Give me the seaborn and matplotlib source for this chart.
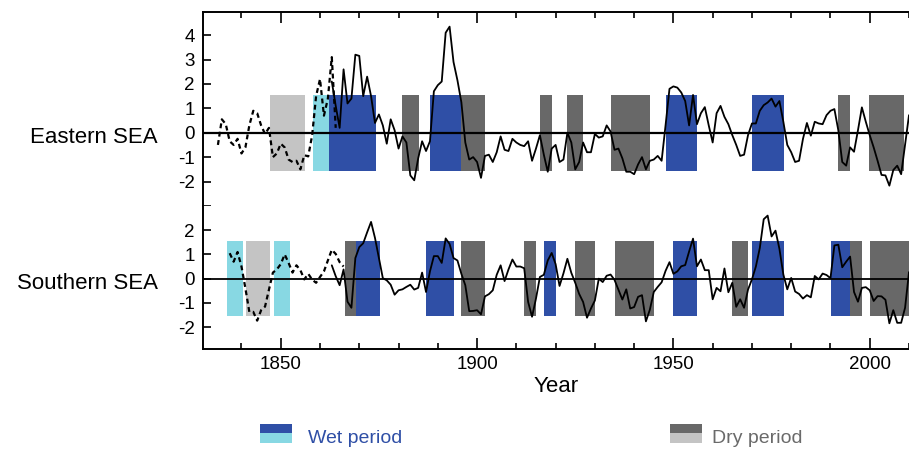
import numpy as np
import pandas as pd
import matplotlib
matplotlib.use("Agg")
import matplotlib.pyplot as plt
import seaborn as sns
from matplotlib.patches import Rectangle
from matplotlib.transforms import blended_transform_factory
from matplotlib.ticker import FixedLocator, FixedFormatter, MultipleLocator

# ---------------- data ----------------
east_dot_years = list(range(1834, 1865))
east_dot_vals = [-0.5, 0.55, 0.35, -0.35, -0.5, -0.25, -0.85, -0.6, 0.3, 0.9,
                 0.8, 0.3, -0.05, 0.2, -1.0, -0.85, -0.45, -0.6, -1.1, -1.2,
                 -1.15, -1.5, -0.92, -0.97, -0.1, 1.5, 2.2, 0.7, 1.4, 3.1, 0.2]

east_years = list(range(1863, 2011))
east_vals = [2.1, 1.1, 0.2, 2.6, 1.2, 1.4, 3.2,
             3.15, 1.5, 2.3, 1.5, 0.4, 0.75, 0.3, -0.45, 0.55, 0.1,
             -0.65, -0.15, -0.4, -1.75, -1.95, -1.05, -0.35, -0.75, -0.35, 1.7,
             1.95, 2.1, 4.1, 4.35, 2.9, 2.15, 1.25, -0.4, -1.1, -1.0,
             -1.2, -1.85, -0.95, -0.9, -1.2, -0.8, -0.15, -0.7, -0.75, -0.25,
             -0.4, -0.5, -0.55, -0.35, -1.15, -0.65, -0.1, -0.9, -1.6, -0.65,
             -0.5, -1.2, -1.1, 0.0, -0.4, -1.5, -1.2, -0.4, -0.8, -0.8,
             -0.05, -0.2, -0.15, 0.3, 0.05, -0.7, -0.65, -1.05, -1.6, -1.6,
             -1.7, -1.3, -1.0, -1.5, -1.15, -1.1, -0.95, -1.15, 0.3, 1.8,
             1.9, 1.85, 1.65, 1.3, 0.3, 1.55, 0.35, 0.8, 1.05, 0.3,
             -0.4, 0.8, 1.1, 0.65, 0.35, -0.1, -0.5, -0.95, -0.9, -0.1,
             0.38, 0.38, 0.9, 1.13, 1.24, 1.4, 1.07, 1.3, 0.45, -0.5,
             -0.8, -1.2, -1.15, -0.25, 0.4, -0.12, 0.45, 0.38, 0.35, 0.72,
             0.9, 0.97, 0.1, -1.2, -1.35, -0.6, -0.78, 0.1, 1.04, 0.45,
             -0.1, -0.6, -1.15, -1.73, -1.75, -2.17, -1.53, -1.35, -1.7, -0.5, 0.72]

south_dot_years = list(range(1837, 1867))
south_dot_vals = [1.05, 0.7, 1.1, 0.5, -0.4, -1.37, -1.37, -1.73, -1.3, -1.15,
                  -0.45, 0.25, 0.38, 0.6, 1.0, 0.65, 0.25, 0.55, 0.35, -0.03,
                  0.2, -0.04, -0.17, 0.07, 0.3, 0.75, 1.19, 1.02, 0.68, 0.5]

south_years = list(range(1863, 2011))
south_vals = [0.55, 0.1, -0.27, 0.38, -0.95, -1.2, 0.85,
              1.3, 1.46, 1.91, 2.34, 1.68, 0.85, 0.02, -0.07, -0.25, -0.66,
              -0.48, -0.44, -0.34, -0.25, -0.45, -0.38, 0.25, -0.55, 0.3, 0.93,
              0.93, 0.65, 1.66, 1.43, 0.85, 0.75, 0.2, -0.27, -1.34, -1.33,
              -1.3, -1.47, -0.73, -0.64, -0.48, 0.16, 0.55, -0.1, 0.38, 0.79,
              0.5, 0.5, 0.43, -0.96, -1.57, -0.82, 0.07, 0.16, 0.75, 1.06,
              0.6, -0.3, 0.22, 0.82, 0.24, -0.17, -0.63, -0.96, -1.61, -1.23,
              -0.9, 0.0, -0.14, 0.12, 0.17, -0.05, -0.45, -0.86, -0.44, -1.23,
              -1.17, -0.75, -0.68, -1.76, -1.28, -0.55, -0.34, -0.15, 0.32, 0.68,
              0.2, 0.3, 0.51, 0.56, 1.12, 1.65, 0.51, 0.79, 0.35, 0.35,
              -0.85, -0.38, -0.52, 0.42, -0.56, -0.17, -1.16, -0.85, -1.2, -0.45,
              -0.03, 0.5, 1.26, 2.45, 2.6, 1.74, 1.98, 1.23, 0.17, -0.44,
              0.03, -0.53, -0.63, -0.82, -0.68, -0.77, 0.11, -0.03, 0.21, 0.15,
              0.02, 1.37, 1.4, 0.47, 0.7, 0.91, -0.55, -0.95, -0.38, -0.35,
              -0.48, -0.92, -0.72, -0.73, -0.87, -1.84, -1.3, -1.82, -1.82, -1.2, 0.27]

# periods (start, end) in years
east_wet_dark = [(1862.2, 1874.2), (1888.1, 1896.0), (1948.1, 1956.0), (1970.0, 1978.1)]
east_wet_light = [(1858.1, 1862.2)]
east_dry_dark = [(1881.0, 1885.1), (1896.0, 1902.1), (1916.0, 1919.2), (1923.0, 1927.0),
                 (1934.2, 1944.1), (1991.9, 1995.0), (1999.9, 2008.8)]
east_dry_light = [(1847.2, 1856.1)]

south_wet_dark = [(1869.1, 1875.2), (1887.1, 1894.2), (1917.1, 1920.1), (1950.0, 1956.1),
                  (1970.0, 1978.1), (1990.1, 1995.0)]
south_wet_light = [(1836.3, 1840.3), (1848.2, 1852.3)]
south_dry_dark = [(1866.3, 1869.1), (1896.0, 1902.1), (1912.0, 1915.1), (1925.0, 1930.1),
                  (1935.2, 1945.1), (1965.0, 1969.0), (1995.0, 1998.0), (2000.0, 2010.5)]
south_dry_light = [(1841.1, 1847.2)]

region_labels = ["Eastern SEA", "Southern SEA"]
legend_labels = ["Wet period", "Dry period"]
x_major = [1850, 1900, 1950, 2000]
east_yticks = [-3, -2, -1, 0, 1, 2, 3, 4]
east_ylabels = ["", "-2", "-1", "0", "1", "2", "3", "4"]
south_yticks = [-2, -1, 0, 1, 2]
south_ylabels = ["-2", "-1", "0", "1", "2"]

# ---------------- style ----------------
WET_DARK = "#2f4fa6"
WET_LIGHT = "#88d8e3"
DRY_DARK = "#686868"
DRY_LIGHT = "#c4c4c4"
BAR_LO, BAR_HI = -1.56, 1.54

sns.set_style("ticks")
plt.rcParams["font.family"] = ["Liberation Sans", "DejaVu Sans"]
plt.rcParams.update({"text.color": "black", "axes.edgecolor": "black",
                     "axes.labelcolor": "black", "xtick.color": "black",
                     "ytick.color": "black"})

fig = plt.figure(figsize=(9.09, 4.49), dpi=100)
L = 203 / 909
top_edge = 1 - 12 / 449
mid_edge = 1 - 205.9 / 449
bot_edge = 1 - 349 / 449
ax1 = fig.add_axes([L, mid_edge, 1 - L, top_edge - mid_edge])
ax2 = fig.add_axes([L, bot_edge, 1 - L, mid_edge - bot_edge])


def draw_periods(ax, periods, color):
    starts = [a for a, b in periods]
    widths = [b - a for a, b in periods]
    ax.bar(starts, [BAR_HI - BAR_LO] * len(starts), width=widths, bottom=BAR_LO,
           align="edge", color=color, linewidth=0, zorder=1)


for ax, sets in [(ax1, [(east_wet_dark, WET_DARK), (east_wet_light, WET_LIGHT),
                        (east_dry_dark, DRY_DARK), (east_dry_light, DRY_LIGHT)]),
                 (ax2, [(south_wet_dark, WET_DARK), (south_wet_light, WET_LIGHT),
                        (south_dry_dark, DRY_DARK), (south_dry_light, DRY_LIGHT)])]:
    for per, col in sets:
        draw_periods(ax, per, col)

ax1.axhline(0, color="black", lw=1.6, zorder=2)
ax2.axhline(0, color="black", lw=1.3, zorder=2)

sns.lineplot(x=east_dot_years, y=east_dot_vals, ax=ax1, color="black", linewidth=1.6,
             linestyle=(0, (2.2, 1.6)), estimator=None, sort=False, zorder=3)
sns.lineplot(x=east_years, y=east_vals, ax=ax1, color="black", linewidth=1.3,
             estimator=None, sort=False, zorder=3)
sns.lineplot(x=south_dot_years, y=south_dot_vals, ax=ax2, color="black", linewidth=1.6,
             linestyle=(0, (2.2, 1.6)), estimator=None, sort=False, zorder=3)
sns.lineplot(x=south_years, y=south_vals, ax=ax2, color="black", linewidth=1.3,
             estimator=None, sort=False, zorder=3)

for ax in (ax1, ax2):
    ax.set_xlim(1830.2, 2010)
    ax.spines["right"].set_visible(False)
    for s in ("left", "top", "bottom"):
        ax.spines[s].set_linewidth(1.4)
        ax.spines[s].set_color("black")
    ax.set_ylabel("")
    ax.xaxis.set_major_locator(FixedLocator(x_major))
    ax.xaxis.set_minor_locator(MultipleLocator(10))

ax1.set_ylim(-3, 4.95)
ax2.set_ylim(-2.9, 3)
ax1.spines["bottom"].set_visible(False)
ax2.spines["top"].set_visible(False)

ax1.yaxis.set_major_locator(FixedLocator(east_yticks))
ax1.yaxis.set_major_formatter(FixedFormatter(east_ylabels))
ax2.yaxis.set_major_locator(FixedLocator(south_yticks))
ax2.yaxis.set_major_formatter(FixedFormatter(south_ylabels))
for ax in (ax1, ax2):
    ax.tick_params(axis="y", direction="in", length=6, width=1.2, labelsize=13.5, pad=6,
                   colors="black")

ax1.tick_params(axis="x", which="both", direction="in", top=True, bottom=False,
                labeltop=False, labelbottom=False, width=1.2, colors="black")
ax1.tick_params(axis="x", which="major", length=8)
ax1.tick_params(axis="x", which="minor", length=4)
ax2.tick_params(axis="x", which="both", direction="in", top=False, bottom=True,
                labelbottom=True, width=1.2, labelsize=13.5, pad=5, colors="black")
ax2.tick_params(axis="x", which="major", length=8)
ax2.tick_params(axis="x", which="minor", length=4)
ax2.set_xlabel("Year", fontsize=16, labelpad=2, color="black")
ax1.set_xlabel("")

t1 = blended_transform_factory(fig.transFigure, ax1.transData)
t2 = blended_transform_factory(fig.transFigure, ax2.transData)
ax1.text(158 / 909, -0.2, region_labels[0], transform=t1, ha="right", va="center",
         fontsize=16, color="black")
ax2.text(158 / 909, -0.2, region_labels[1], transform=t2, ha="right", va="center",
         fontsize=16, color="black")

# legend
def legend_patch(x0, dark, light):
    w = 32 / 909
    y_top = 1 - 424 / 449
    y_mid = 1 - 433 / 449
    y_bot = 1 - 443 / 449
    fig.add_artist(Rectangle((x0, y_mid), w, y_top - y_mid, transform=fig.transFigure,
                             facecolor=dark, edgecolor="none"))
    fig.add_artist(Rectangle((x0, y_bot), w, y_mid - y_bot, transform=fig.transFigure,
                             facecolor=light, edgecolor="none"))

legend_patch(260 / 909, WET_DARK, WET_LIGHT)
legend_patch(670 / 909, DRY_DARK, DRY_LIGHT)
fig.text(308 / 909, 1 - 443 / 449, legend_labels[0], color=WET_DARK, fontsize=14, va="baseline")
fig.text(712 / 909, 1 - 443 / 449, legend_labels[1], color="#6a6a6a", fontsize=14, va="baseline")

fig.savefig("out.png", dpi=100)
